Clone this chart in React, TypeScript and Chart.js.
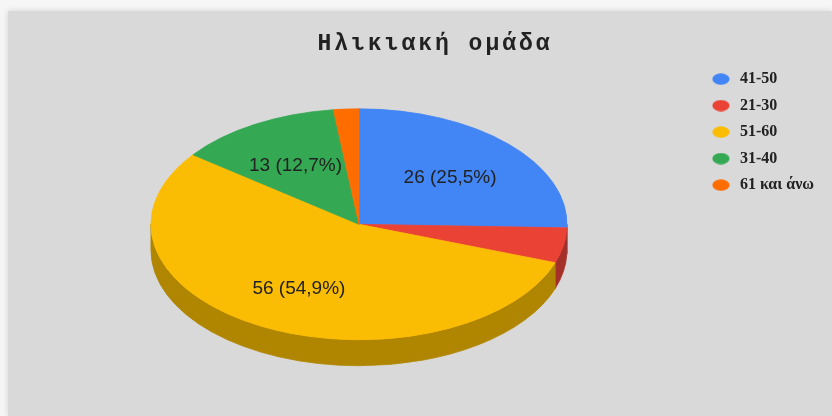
import React, { useEffect, useRef } from 'react';
import { Chart, registerables, layouts } from 'chart.js';

Chart.register(...registerables);

// ---- data ----
const chartTitle = 'Ηλικιακή ομάδα';
const categories = ['41-50', '21-30', '51-60', '31-40', '61 και άνω'];
const counts = [26, 5, 56, 13, 2];
const sliceColors = ['#4285f4', '#ea4335', '#fbbc04', '#34a853', '#ff6d01'];
const sideColors = ['#2f5fae', '#a5302a', '#b08600', '#257a3b', '#b34d00'];

// ---- style constants ----
const SQUASH = 0.555; // vertical tilt of the pie
const DEPTH = 26; // thickness of the 3D rim
const LABEL_RADIUS = 0.61;
const MIN_LABEL_SHARE = 0.05;
const INNER_SPACER = 19.5;
const OUTER_SPACER = 8;

const formatLabel = (v: number, total: number) =>
  `${v} (${((v / total) * 100).toFixed(1).replace('.', ',')}%)`;

const makeMarker = (color: string) => {
  const c = document.createElement('canvas');
  c.width = 18;
  c.height = 12;
  const g = c.getContext('2d')!;
  g.fillStyle = color;
  g.beginPath();
  g.ellipse(9, 6, 8.6, 5.8, 0, 0, Math.PI * 2);
  g.fill();
  return c;
};

const makeSpacer = (position: string, weight: number, size: number) => ({
  position,
  weight,
  fullSize: false,
  options: {},
  left: 0,
  top: 0,
  right: 0,
  bottom: 0,
  width: 0,
  height: 0,
  isHorizontal() {
    return position === 'top' || position === 'bottom';
  },
  update(maxWidth: number, maxHeight: number) {
    if (this.isHorizontal()) {
      this.width = maxWidth;
      this.height = size;
    } else {
      this.width = size;
      this.height = maxHeight;
    }
  },
  draw() {},
});

const spacerPlugin = {
  id: 'spacers',
  beforeInit(chart: any) {
    layouts.addBox(chart, makeSpacer('right', 500, INNER_SPACER) as any);
    layouts.addBox(chart, makeSpacer('right', 3000, OUTER_SPACER) as any);
  },
};

const titleSpacingPlugin = {
  id: 'titleSpacing',
  afterLayout(chart: any) {
    const tb = chart.titleBlock;
    if (tb && !tb._spaced) {
      const orig = tb.draw.bind(tb);
      tb.draw = (area: any) => {
        const ctx = chart.ctx as any;
        const prev = ctx.letterSpacing;
        ctx.letterSpacing = '3px';
        orig(area);
        ctx.letterSpacing = prev || '0px';
      };
      tb._spaced = true;
    }
  },
};

const pie3dPlugin = {
  id: 'pie3d',
  beforeDatasetsDraw(chart: any) {
    const arcs = chart.getDatasetMeta(0).data;
    const ctx = chart.ctx;
    ctx.save();
    if (!arcs.length) return;
    const { x: cx, y: cy } = arcs[0].getProps(['x', 'y'], true);
    arcs.forEach((arc: any, i: number) => {
      const p = arc.getProps(['startAngle', 'endAngle', 'outerRadius'], true);
      const s = Math.max(p.startAngle, 0);
      const e = Math.min(p.endAngle, Math.PI);
      if (e <= s) return;
      const R = p.outerRadius;
      const ry = R * SQUASH;
      ctx.beginPath();
      ctx.ellipse(cx, cy, R, ry, 0, s, e, false);
      ctx.lineTo(cx + R * Math.cos(e), cy + ry * Math.sin(e) + DEPTH);
      ctx.ellipse(cx, cy + DEPTH, R, ry, 0, e, s, true);
      ctx.closePath();
      ctx.fillStyle = sideColors[i];
      ctx.strokeStyle = sideColors[i];
      ctx.lineWidth = 0.8;
      ctx.fill();
      ctx.stroke();
    });
    ctx.translate(cx, cy);
    ctx.scale(1, SQUASH);
    ctx.translate(-cx, -cy);
  },
  afterDatasetsDraw(chart: any) {
    const ctx = chart.ctx;
    ctx.restore();
    const arcs = chart.getDatasetMeta(0).data;
    const data: number[] = chart.data.datasets[0].data;
    const total = data.reduce((a, b) => a + b, 0);
    ctx.save();
    ctx.font = '19px "Liberation Sans", Arial, sans-serif';
    ctx.fillStyle = '#222222';
    ctx.textAlign = 'center';
    ctx.textBaseline = 'middle';
    arcs.forEach((arc: any, i: number) => {
      const v = data[i];
      if (v / total < MIN_LABEL_SHARE) return;
      const p = arc.getProps(['x', 'y', 'startAngle', 'endAngle', 'outerRadius'], true);
      const mid = (p.startAngle + p.endAngle) / 2;
      const r = p.outerRadius * LABEL_RADIUS;
      ctx.fillText(
        formatLabel(v, total),
        p.x + r * Math.cos(mid),
        p.y + r * SQUASH * Math.sin(mid) + 2
      );
    });
    ctx.restore();
  },
};

export default function App() {
  const ref = useRef<HTMLCanvasElement>(null);

  useEffect(() => {
    if (!ref.current) return;
    const markers = sliceColors.map(makeMarker);
    const chart = new Chart(ref.current, {
      type: 'pie',
      data: {
        labels: categories,
        datasets: [
          {
            data: counts,
            backgroundColor: sliceColors,
            borderColor: sliceColors,
            borderWidth: 1,
            radius: 208,
            clip: false as any,
          } as any,
        ],
      },
      options: {
        responsive: false,
        animation: false,
        devicePixelRatio: 1,
        events: [],
        layout: { padding: { top: 11, left: 38, right: 0, bottom: 28 } },
        plugins: {
          tooltip: { enabled: false },
          title: {
            display: true,
            text: chartTitle,
            align: 'center',
            color: '#222222',
            font: { family: '"Liberation Mono", "Courier New", monospace', size: 23, weight: 'bold' },
            padding: { top: 19, bottom: 3 },
          },
          legend: {
            position: 'right',
            align: 'start',
            fullSize: false,
            labels: {
              usePointStyle: true,
              pointStyleWidth: 22,
              padding: 10.5,
              color: '#222222',
              font: { family: '"Liberation Serif", "Times New Roman", serif', size: 16, weight: 'bold' },
              generateLabels: (c: any) =>
                c.data.labels.map((text: string, i: number) => ({
                  text,
                  fillStyle: sliceColors[i],
                  strokeStyle: sliceColors[i],
                  lineWidth: 0,
                  pointStyle: markers[i],
                  fontColor: '#222222',
                  hidden: false,
                  index: i,
                })),
            },
          },
        },
      } as any,
      plugins: [spacerPlugin, titleSpacingPlugin, pie3dPlugin],
    });
    chart.draw();
    return () => chart.destroy();
  }, []);

  return (
    <div
      style={{
        position: 'fixed',
        left: 0,
        top: 0,
        width: 832,
        height: 416,
        overflow: 'hidden',
        background: '#f6f6f6',
      }}
    >
      <div
        style={{
          position: 'absolute',
          left: 8,
          top: 11,
          right: 0,
          bottom: 0,
          background: '#d9d9d9',
          boxShadow: '0 0 6px rgba(0,0,0,0.15)',
        }}
      />
      <canvas
        ref={ref}
        width={832}
        height={416}
        style={{ position: 'absolute', left: 0, top: 0, display: 'block' }}
      />
    </div>
  );
}
